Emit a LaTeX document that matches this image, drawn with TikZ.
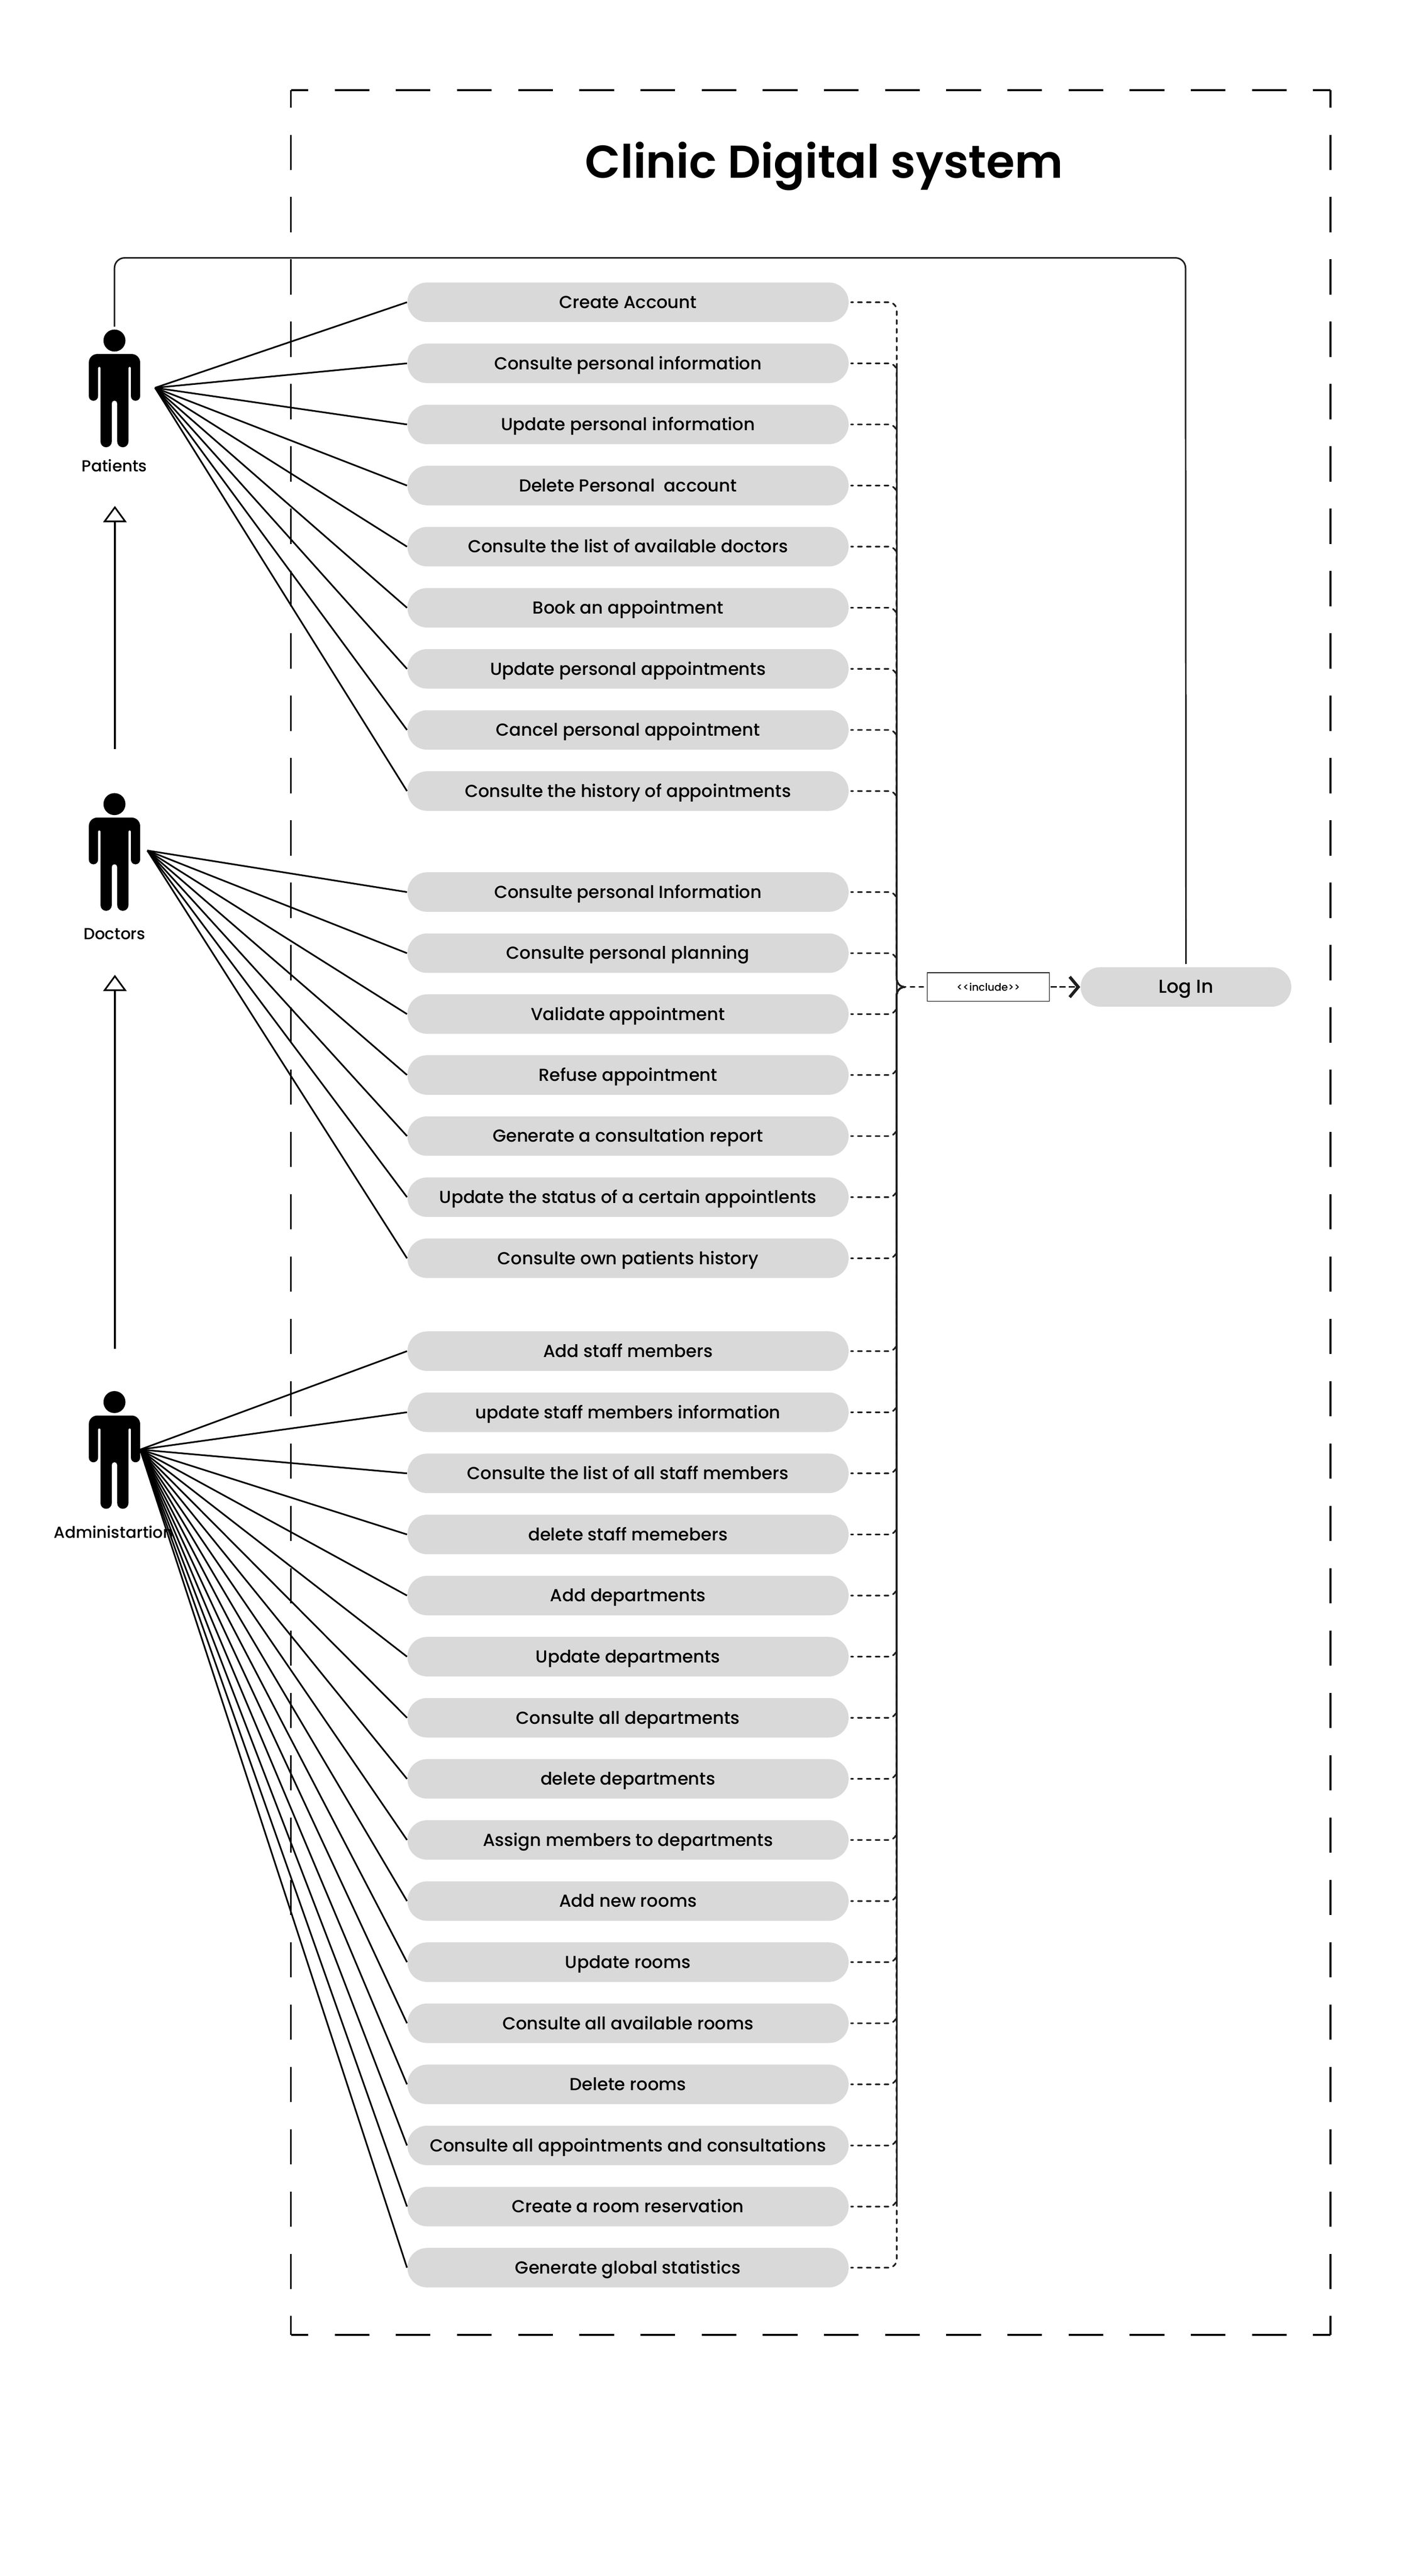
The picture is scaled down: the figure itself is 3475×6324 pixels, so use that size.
\documentclass[tikz,border=0pt]{standalone}
\usepackage{fontspec}
\setmainfont{Poppins Medium}
\newfontfamily\titlefont{Poppins SemiBold}
\usetikzlibrary{arrows.meta}
\definecolor{pillgrey}{HTML}{D9D9D9}
\definecolor{ink}{HTML}{1E1E1E}
\tikzset{
  pill/.style={rectangle,rounded corners=9.7pt,fill=pillgrey,minimum width=216.6pt,minimum height=19.4pt,inner sep=0pt,
    text height=6pt,text depth=0pt,font=\fontsize{8.55}{10}\selectfont},
  assoc/.style={draw=black,line width=.8pt},
  dep/.style={draw=ink,line width=.8pt,line cap=round,dash pattern=on 2pt off 2.34pt,dash phase=1pt,rounded corners=4pt},
  inherit/.style={draw=black,line width=.8pt,-{Triangle[open,fill=white,length=8pt,width=11.5pt,line width=.8pt]}},
  framehz/.style={draw=black,line width=1pt,dash pattern=on 17pt off 13.02pt,dash phase=8.5pt},
  framevt/.style={draw=black,line width=1pt,dash pattern=on 17.3pt off 13.3pt,dash phase=8.65pt},
  actorlabel/.style={inner sep=0pt,text height=5.4pt,text depth=0pt,font=\fontsize{7.85}{9}\selectfont},
  actor/.pic={
    \fill[black] (0,33) circle[radius=27];
    \fill[black] (-42,0) -- (42,0) arc[start angle=90,end angle=0,radius=21] -- (63,-103.5)
      arc[start angle=0,end angle=-180,radius=11.35] -- (40.3,-34.6)
      arc[start angle=0,end angle=180,radius=3] -- (34.3,-215.2)
      arc[start angle=0,end angle=-180,radius=13.8] -- (6.7,-121.2)
      arc[start angle=0,end angle=180,radius=6.7] -- (-6.7,-215.2)
      arc[start angle=0,end angle=-180,radius=13.8] -- (-34.3,-34.6)
      arc[start angle=0,end angle=180,radius=3] -- (-40.3,-103.5)
      arc[start angle=0,end angle=-180,radius=11.35] -- (-63,-21)
      arc[start angle=180,end angle=90,radius=21] -- cycle;
  }
}
\begin{document}
\begin{tikzpicture}[x=.2pt,y=.2pt]
\useasboundingbox[fill=white] (0,0) rectangle (3475,-6324);
% system frame
\coordinate (tl) at (714,-221); \coordinate (tr) at (3266,-221);
\coordinate (bl) at (714,-5732); \coordinate (br) at (3266,-5732);
\draw[framehz] (tl) -- (tr);
\draw[framehz] (bl) -- (br);
\draw[framevt] (tl) -- (bl);
\draw[framevt] (tr) -- (br);
\node[anchor=base,inner sep=0pt,font=\titlefont\fontsize{22.6}{27}\selectfont] (title) at (2023,-437) {Clinic Digital system};
% actors
\pic at (281,-869) {actor};
\pic at (281,-2007) {actor};
\pic at (281,-3475) {actor};
\node[actorlabel] (patients) at (281,-1144) {Patients};
\node[actorlabel] (doctors) at (281,-2293) {Doctors};
\node[actorlabel] (admin) at (279,-3763) {Administartion};
\coordinate (phead) at (281,-809);
\coordinate (pfan) at (380.6,-952);
\coordinate (dfan) at (361.7,-2088);
\coordinate (afan) at (344,-3558.6);
% generalisation
\coordinate (g1s) at (282,-1839); \coordinate (g1t) at (282,-1242);
\coordinate (g2s) at (282,-3311); \coordinate (g2t) at (282,-2393);
\draw[inherit] (g1s) -- (g1t);
\draw[inherit] (g2s) -- (g2t);
% login and include
\node[pill,minimum width=103.4pt,font=\fontsize{9.2}{11}\selectfont] (login) at (2911,-2423) {Log In};
\node[draw=black,line width=.35pt,fill=white,minimum width=60pt,minimum height=14pt,inner sep=0pt,font=\fontsize{5.1}{6}\selectfont] (incl) at (2426,-2423) {<{}<include>{}>};
\coordinate (bus) at (2201,-2423);
\coordinate (top) at (2910,-633);
\coordinate (jstub) at (2218,-2423);
\draw[draw=ink,line width=.75pt,rounded corners=5pt,shorten <=1.4pt,shorten >=1.4pt] (phead) -- (phead|-top) -- (top) -- (login.north);
% use cases
\foreach \n/\y/\t in {
 a1/742/Create Account,
 a2/892/Consulte personal information,
 a3/1042/Update personal information,
 a4/1192/Delete Personal\ \ account,
 a5/1342/Consulte the list of available doctors,
 a6/1492/Book an appointment,
 a7/1642/Update personal appointments,
 a8/1792/Cancel personal appointment,
 a9/1942/Consulte the history of appointments,
 b1/2190/Consulte personal Information,
 b2/2340/Consulte personal planning,
 b3/2489.5/Validate appointment,
 b4/2639/Refuse appointment,
 b5/2789/Generate a consultation report,
 b6/2939/Update the status of a certain appointlents,
 b7/3089/Consulte own patients history,
 c1/3317/Add staff members,
 c2/3467/update staff members information,
 c3/3617/Consulte the list of all staff members,
 c4/3767/delete staff memebers,
 c5/3917/Add departments,
 c6/4067/Update departments,
 c7/4217/Consulte all departments,
 c8/4367/delete departments,
 c9/4517/Assign members to departments,
 c10/4667/Add new rooms,
 c11/4817/Update rooms,
 c12/4967/Consulte all available rooms,
 c13/5117/Delete rooms,
 c14/5267/Consulte all appointments and consultations,
 c15/5417/Create a room reservation,
 c16/5567/Generate global statistics}
 {\node[pill] (\n) at (1541.5,-\y) {\t};
  \draw[dep,shorten <=1pt] (\n.east) -- (bus|-\n.east) -- (bus) -- (jstub);}
\draw[draw=ink,line width=.8pt] (bus|-a2.east) -- (bus|-c15.east);
\draw[dep,shorten >=1pt,rounded corners=0pt] (jstub) -- (incl.west);
\draw[dep,line cap=butt,dash phase=0pt,dash pattern=on 3pt off 1.4pt,shorten <=.4pt,-{Straight Barb[length=4.2pt,width=10pt,line width=1.5pt]}] (incl.east) -- (login.west);
% associations
\foreach \n in {a1,a2,a3,a4,a5,a6,a7,a8,a9} {\draw[assoc] (pfan) -- (\n.west);}
\foreach \n in {b1,b2,b3,b4,b5,b6,b7} {\draw[assoc] (dfan) -- (\n.west);}
\foreach \n in {c1,c2,c3,c4,c5,c6,c7,c8,c9,c10,c11,c12,c13,c14,c15,c16} {\draw[assoc] (afan) -- (\n.west);}
\end{tikzpicture}
\end{document}
